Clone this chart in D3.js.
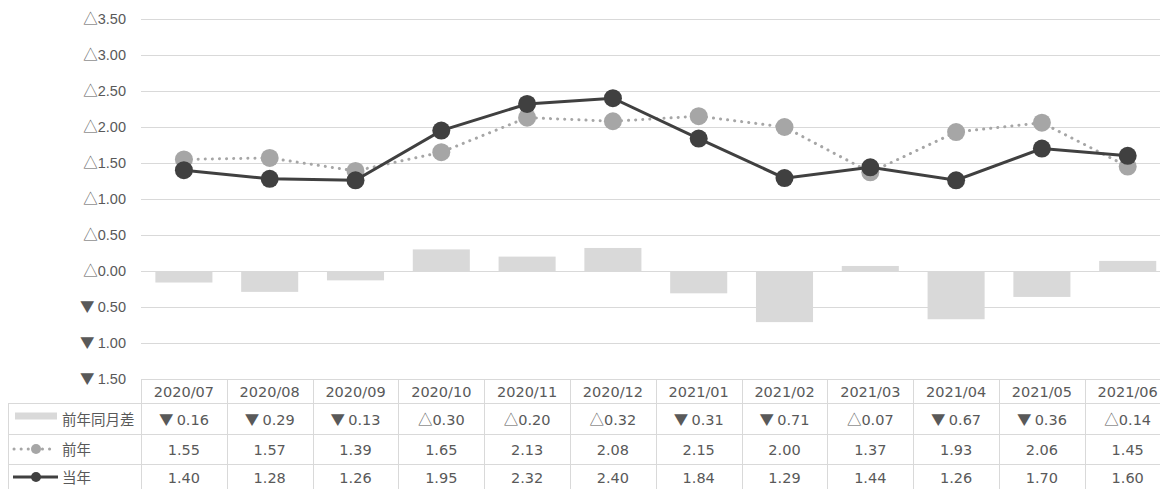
<!DOCTYPE html>
<html>
<head>
<meta charset="utf-8">
<title>前年同月差</title>
<script src="https://cdn.jsdelivr.net/npm/d3@7"></script>
<style>
  body { margin: 0; background: #fff; }
  svg { display: block; font-family: "DejaVu Sans", "Noto Sans CJK JP", sans-serif; }
  .axis text { fill: #595959; font-size: 14.5px; }
  .axis line { stroke: #d9d9d9; }
  .cell { fill: #595959; font-size: 14.5px; }
  .tri { font-family: "Noto Sans CJK JP", sans-serif; }
  .border { stroke: #d9d9d9; stroke-width: 1; }
</style>
</head>
<body>
<div id="chart"></div>
<script>
var months = ['2020/07','2020/08','2020/09','2020/10','2020/11','2020/12',
              '2021/01','2021/02','2021/03','2021/04','2021/05','2021/06'];
var diff     = [-0.16, -0.29, -0.13, 0.30, 0.20, 0.32, -0.31, -0.71, 0.07, -0.67, -0.36, 0.14];
var lastYear = [1.55, 1.57, 1.39, 1.65, 2.13, 2.08, 2.15, 2.00, 1.37, 1.93, 2.06, 1.45];
var thisYear = [1.40, 1.28, 1.26, 1.95, 2.32, 2.40, 1.84, 1.29, 1.44, 1.26, 1.70, 1.60];
var yTicks = [-1.5, -1.0, -0.5, 0, 0.5, 1.0, 1.5, 2.0, 2.5, 3.0, 3.5];
var rowNames = ['前年同月差', '前年', '当年'];

var chartW = 1160, chartH = 489;
var plotLeft = 141, colW = 85.8, plotTop = 19, plotBottom = 379;

var svg = d3.select('#chart').append('svg')
    .attr('width', chartW).attr('height', chartH);

var x = d3.scaleBand().domain(months)
    .range([plotLeft, plotLeft + colW * months.length])
    .paddingInner(0.335).paddingOuter(0.1675);
var xc = d3.scaleBand().domain(months)
    .range([plotLeft, plotLeft + colW * months.length]);

var y = d3.scaleLinear().domain([-1.5, 3.5]).range([plotBottom, plotTop]);

// triangle mark drawn in a CJK font, number in the latin font
function signed(sel, v) {
    sel.text(null);
    sel.append('tspan').attr('class', 'tri').text(v < 0 ? '\u25BC ' : '\u25B3');
    sel.append('tspan').text(Math.abs(v).toFixed(2));
}

// axis + gridlines
var yAxis = d3.axisLeft(y).tickValues(yTicks)
    .tickSize(-(chartW - plotLeft)).tickPadding(15);
var yg = svg.append('g').attr('class', 'axis')
    .attr('transform', 'translate(' + plotLeft + ',0)')
    .call(yAxis);
yg.select('.domain').remove();
yg.selectAll('.tick text').each(function(d) { signed(d3.select(this), d); });

// bars
svg.selectAll('.bar').data(diff).enter().append('rect')
    .attr('class', 'bar')
    .attr('x', function(d, i) { return x(months[i]); })
    .attr('width', x.bandwidth())
    .attr('y', function(d) { return y(Math.max(0, d)); })
    .attr('height', function(d) { return Math.abs(y(d) - y(0)); })
    .attr('fill', '#d9d9d9');

function cx(i) { return xc(months[i]) + xc.bandwidth() / 2; }

var line = d3.line().x(function(d, i) { return cx(i); }).y(function(d) { return y(d); });

// last year (dotted)
svg.append('path').datum(lastYear)
    .attr('d', line).attr('fill', 'none')
    .attr('stroke', '#a6a6a6').attr('stroke-width', 3)
    .attr('stroke-linecap', 'round').attr('stroke-dasharray', '0.1,7');
svg.selectAll('.ly').data(lastYear).enter().append('circle')
    .attr('class', 'ly')
    .attr('cx', function(d, i) { return cx(i); })
    .attr('cy', function(d) { return y(d); })
    .attr('r', 9).attr('fill', '#a6a6a6');

// this year (solid)
svg.append('path').datum(thisYear)
    .attr('d', line).attr('fill', 'none')
    .attr('stroke', '#404040').attr('stroke-width', 3);
svg.selectAll('.ty').data(thisYear).enter().append('circle')
    .attr('class', 'ty')
    .attr('cx', function(d, i) { return cx(i); })
    .attr('cy', function(d) { return y(d); })
    .attr('r', 9).attr('fill', '#404040');

// data table
var rowY = [379, 403, 434, 464, 495];
var tableRight = plotLeft + colW * months.length;
var tbl = svg.append('g');

// horizontal borders
tbl.append('line').attr('class', 'border')
    .attr('x1', plotLeft).attr('x2', tableRight).attr('y1', rowY[0] + 0.5).attr('y2', rowY[0] + 0.5);
[1, 2, 3].forEach(function(r) {
    tbl.append('line').attr('class', 'border')
        .attr('x1', 8).attr('x2', tableRight).attr('y1', rowY[r] + 0.5).attr('y2', rowY[r] + 0.5);
});
// vertical borders
tbl.append('line').attr('class', 'border')
    .attr('x1', 8.5).attr('x2', 8.5).attr('y1', rowY[1]).attr('y2', chartH);
months.forEach(function(m, i) {
    var xx = Math.round(xc(m)) + 0.5;
    tbl.append('line').attr('class', 'border')
        .attr('x1', xx).attr('x2', xx).attr('y1', rowY[0]).attr('y2', chartH);
});

// header
tbl.selectAll('.hdr').data(months).enter().append('text')
    .attr('class', 'cell')
    .attr('x', function(d, i) { return cx(i); })
    .attr('y', (rowY[0] + rowY[1]) / 2 + 1)
    .attr('dy', '0.35em').attr('text-anchor', 'middle')
    .text(function(d) { return d; });

var rows = [diff, lastYear, thisYear];
rows.forEach(function(vals, r) {
    var cy = (rowY[r + 1] + rowY[r + 2]) / 2 + 1;
    if (r === 2) cy = 478;
    var t = tbl.selectAll('.r' + r).data(vals).enter().append('text')
        .attr('class', 'cell')
        .attr('x', function(d, i) { return cx(i); })
        .attr('y', cy).attr('dy', '0.35em').attr('text-anchor', 'middle');
    if (r === 0) t.each(function(d) { signed(d3.select(this), d); });
    else t.text(function(d) { return d.toFixed(2); });
    tbl.append('text').attr('class', 'cell')
        .attr('x', 62).attr('y', cy).attr('dy', '0.35em')
        .text(rowNames[r]);
});

// legend keys in table
var k1 = (rowY[1] + rowY[2]) / 2 - 3;
tbl.append('rect').attr('x', 15).attr('y', k1 - 3).attr('width', 42).attr('height', 7)
    .attr('fill', '#d9d9d9');
var k2 = (rowY[2] + rowY[3]) / 2;
tbl.append('line').attr('x1', 14).attr('x2', 56).attr('y1', k2).attr('y2', k2)
    .attr('stroke', '#a6a6a6').attr('stroke-width', 3)
    .attr('stroke-linecap', 'round').attr('stroke-dasharray', '0.1,7');
tbl.append('circle').attr('cx', 36).attr('cy', k2).attr('r', 5).attr('fill', '#a6a6a6');
var k3 = 477;
tbl.append('line').attr('x1', 13).attr('x2', 58).attr('y1', k3).attr('y2', k3)
    .attr('stroke', '#404040').attr('stroke-width', 3);
tbl.append('circle').attr('cx', 36).attr('cy', k3).attr('r', 5).attr('fill', '#404040');
</script>
</body>
</html>
